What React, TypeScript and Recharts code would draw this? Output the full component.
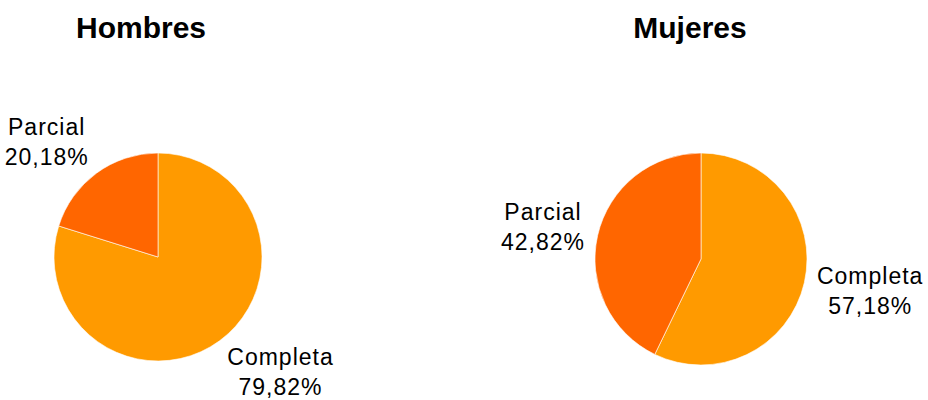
import React from 'react';
import { PieChart, Pie, Cell } from 'recharts';

// categories and values (percent)
const categories = ['Completa', 'Parcial'];
const hombresValues = [79.82, 20.18];
const mujeresValues = [57.18, 42.82];
const titles = ['Hombres', 'Mujeres'];

const COLORS: Record<string, string> = {
  Completa: '#FF9A00',
  Parcial: '#FF6600'
};

const hombresData = categories.map((name, i) => ({ name, value: hombresValues[i] }));
const mujeresData = categories.map((name, i) => ({ name, value: mujeresValues[i] }));

const FONT = '"Liberation Sans", Arial, sans-serif';
const LABEL_SIZE = 23;
const LETTER_SPACING = 1;

const fmt = (v: number) => v.toFixed(2).replace('.', ',') + '%';

let measureCtx: CanvasRenderingContext2D | null = null;
const textWidth = (s: string) => {
  if (!measureCtx) {
    measureCtx = document.createElement('canvas').getContext('2d');
  }
  if (!measureCtx) return s.length * 12;
  measureCtx.font = `${LABEL_SIZE}px ${FONT}`;
  return measureCtx.measureText(s).width + s.length * LETTER_SPACING;
};

// outside label, lines centred in a block whose near edge sits just past the rim
const renderLabel = ({ cx, cy, midAngle, outerRadius, name, value }: any) => {
  const RADIAN = Math.PI / 180;
  const cos = Math.cos(-midAngle * RADIAN);
  const sin = Math.sin(-midAngle * RADIAN);
  const d = outerRadius + 13;
  const edge = cx + d * cos;
  const yc = cy + d * sin + 26 * sin;
  const lines = [name, fmt(value)];
  const w = Math.max(...lines.map(textWidth));
  const x = cos >= 0 ? edge + w / 2 : edge - w / 2;
  return (
    <text
      x={x}
      y={yc}
      fill="#000"
      textAnchor="middle"
      fontFamily={FONT}
      fontSize={LABEL_SIZE}
      letterSpacing={LETTER_SPACING}
    >
      <tspan x={x} y={yc - 15} dominantBaseline="central">{lines[0]}</tspan>
      <tspan x={x} y={yc + 15} dominantBaseline="central">{lines[1]}</tspan>
    </text>
  );
};

const titleStyle = (left: number): React.CSSProperties => ({
  position: 'absolute',
  left,
  top: 8,
  width: 200,
  marginLeft: -100,
  textAlign: 'center',
  fontFamily: FONT,
  fontWeight: 'bold',
  fontSize: 30,
  lineHeight: '40px',
  color: '#000'
});

export default function App() {
  return (
    <div style={{ position: 'fixed', left: 0, top: 0, width: 928, height: 400, background: '#fff', overflow: 'hidden' }}>
      <div style={titleStyle(141)}>{titles[0]}</div>
      <div style={titleStyle(690)}>{titles[1]}</div>
      <PieChart width={928} height={400} margin={{ top: 0, right: 0, bottom: 0, left: 0 }}>
        <Pie
          data={hombresData}
          dataKey="value"
          nameKey="name"
          cx={158}
          cy={257}
          outerRadius={104}
          startAngle={90}
          endAngle={-270}
          stroke="#fff"
          strokeWidth={0.6}
          labelLine={false}
          label={renderLabel}
          isAnimationActive={false}
        >
          {hombresData.map((entry) => (
            <Cell key={`h-${entry.name}`} fill={COLORS[entry.name]} />
          ))}
        </Pie>
        <Pie
          data={mujeresData}
          dataKey="value"
          nameKey="name"
          cx={701}
          cy={259}
          outerRadius={106}
          startAngle={90}
          endAngle={-270}
          stroke="#fff"
          strokeWidth={0.6}
          labelLine={false}
          label={renderLabel}
          isAnimationActive={false}
        >
          {mujeresData.map((entry) => (
            <Cell key={`m-${entry.name}`} fill={COLORS[entry.name]} />
          ))}
        </Pie>
      </PieChart>
    </div>
  );
}
